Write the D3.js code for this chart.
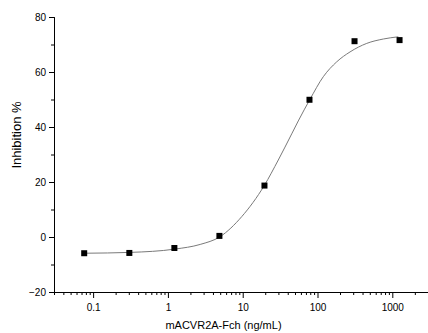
<!DOCTYPE html>
<html><head><meta charset="utf-8">
<script src="https://cdn.jsdelivr.net/npm/d3@7"></script>
<style>body{margin:0;background:#fff}svg{display:block}text{font-family:Arial,"Liberation Sans",sans-serif}</style>
</head><body><svg id="c" width="428" height="333"></svg>
<script>
// measured points
const conc = [0.076, 0.305, 1.22, 4.88, 19.53, 78.1, 312.5, 1250];
const inhib = [-5.9, -5.8, -4.0, 0.4, 18.7, 49.9, 71.2, 71.6];
// fitted curve
const curveX = [0.078, 0.311, 1.24, 2.7, 4.97, 9.7, 19.4, 29.9, 45.2, 55.3, 79.4, 119.6, 180.7, 272, 455, 759, 1203];
const curveY = [-5.9, -5.6, -4.4, -2.7, 0.1, 7.4, 18.7, 28.0, 37.5, 42.2, 50.1, 58.3, 63.7, 67.3, 70.4, 72.0, 72.8];
const xMajor = [0.1, 1, 10, 100, 1000];
const xMajorLabels = ["0.1", "1", "10", "100", "1000"];
const yMajor = [-20, 0, 20, 40, 60, 80];
const yMinor = [-10, 10, 30, 50, 70];
const xTitle = "mACVR2A-Fch (ng/mL)";
const yTitle = "Inhibition %";

const svg = d3.select("#c");
const x = d3.scaleLog().domain([0.03, 3000]).range([54, 428]);
const y = d3.scaleLinear().domain([-20, 80]).range([292, 17]);

// minor x ticks
const xMinor = [];
for (let e = -2; e <= 3; e++) for (let m = 2; m <= 9; m++) { const v = m * Math.pow(10, e); if (v >= 0.03 && v <= 3000) xMinor.push(v); }

const gx = svg.append("g").attr("transform", "translate(0,292)");
gx.call(d3.axisBottom(x).tickValues(xMinor).tickSize(3).tickFormat(""));
gx.append("g").call(d3.axisBottom(x).tickValues(xMajor).tickSize(6).tickFormat((d,i)=>xMajorLabels[i]));
gx.selectAll(".domain").attr("stroke", "#000").attr("d", "M54,0.5H428");
gx.selectAll("line").attr("stroke", "#000");
gx.selectAll("text").attr("font-size", 10).attr("fill", "#000").attr("dy", "1em");

const gy = svg.append("g").attr("transform", "translate(54,0)");
gy.call(d3.axisLeft(y).tickValues(yMinor).tickSize(3).tickFormat(""));
gy.append("g").call(d3.axisLeft(y).tickValues(yMajor).tickSize(5).tickFormat(d3.format("d")));
gy.selectAll(".domain").attr("stroke", "#000");
gy.selectAll("line").attr("stroke", "#000");
gy.selectAll("text").attr("font-size", 10).attr("fill", "#000").attr("x", -8);

const line = d3.line().x(d => x(d[0])).y(d => y(d[1])).curve(d3.curveMonotoneX);
svg.append("path").datum(curveX.map((v,i)=>[v, curveY[i]])).attr("d", line)
  .attr("fill", "none").attr("stroke", "#7a7a7a").attr("stroke-width", 1);

const s = 6;
svg.selectAll("rect.pt").data(conc).join("rect").attr("class","pt")
  .attr("x", (d)=>x(d)-s/2).attr("y", (d,i)=>y(inhib[i])-s/2).attr("width", s).attr("height", s).attr("fill", "#000");

svg.append("text").attr("x", 223.5).attr("y", 329).attr("text-anchor", "middle").attr("font-size", 11).text(xTitle);
svg.append("text").attr("transform", "translate(20.7,135) rotate(-90)").attr("text-anchor", "middle").attr("font-size", 13).text(yTitle);
</script></body></html>
